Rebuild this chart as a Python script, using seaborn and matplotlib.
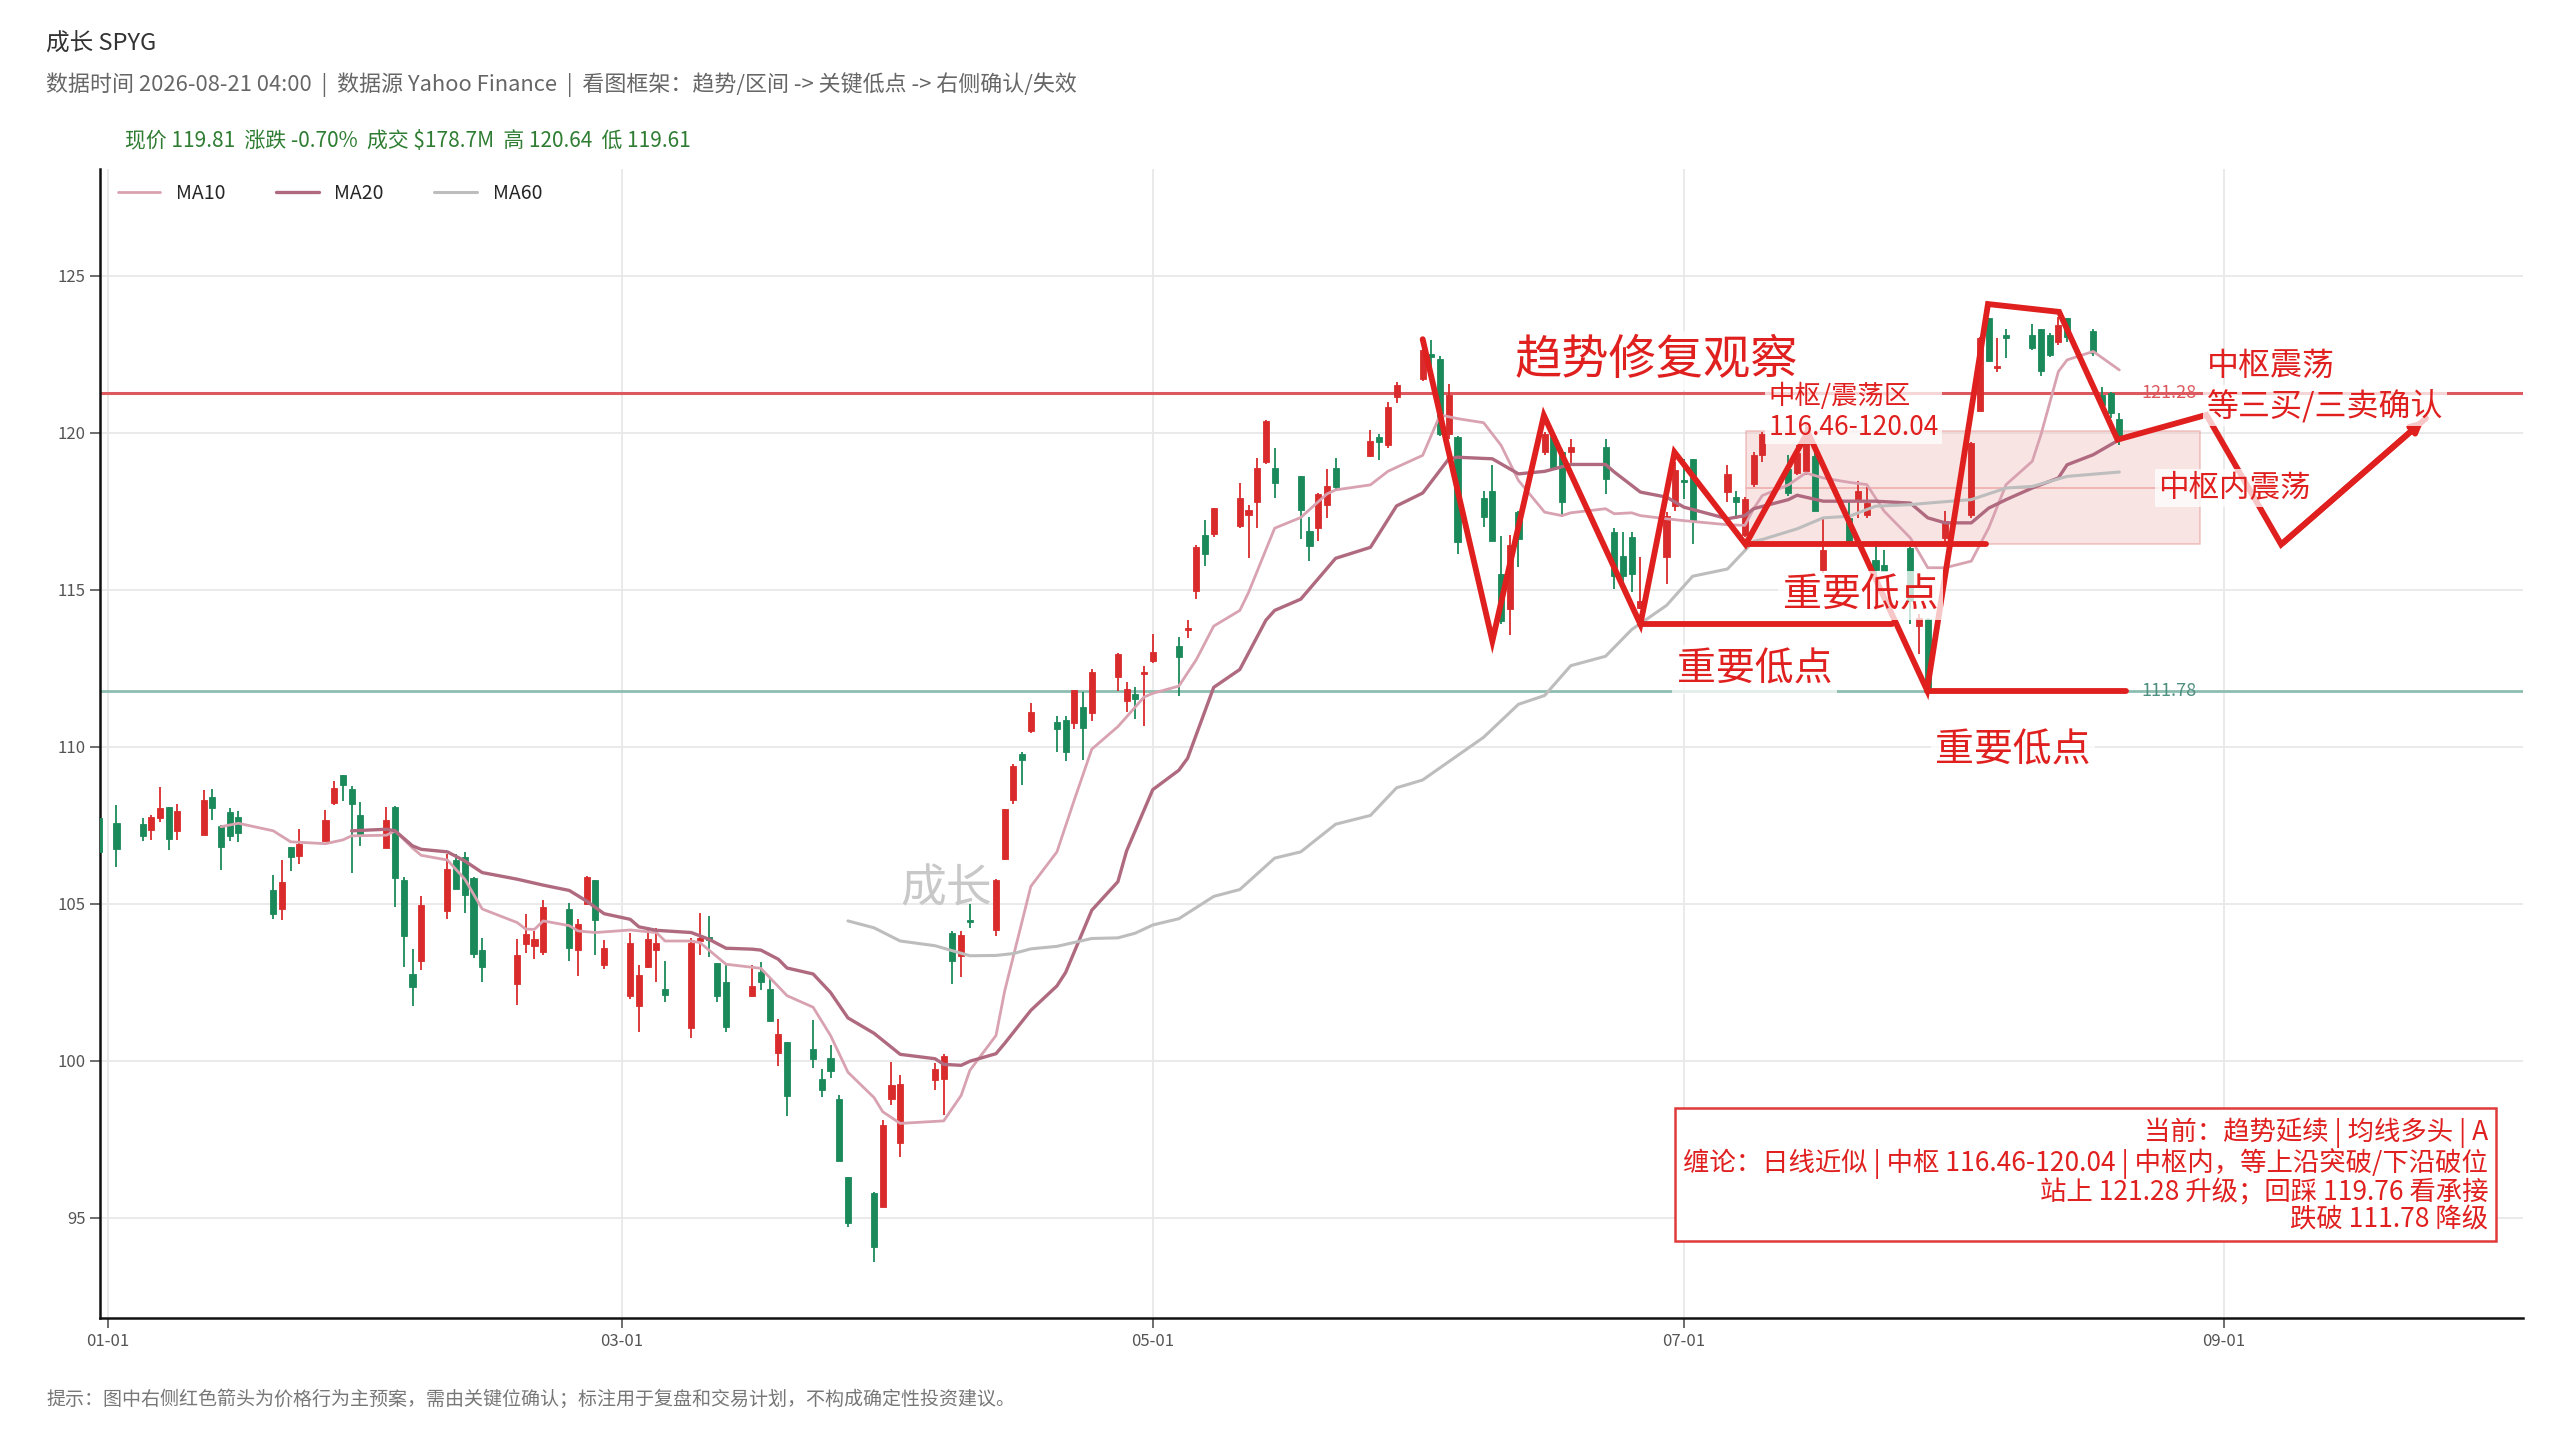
import pandas as pd
import seaborn as sns
import matplotlib
matplotlib.use("Agg")
import matplotlib.pyplot as plt
import matplotlib.dates as mdates

# --- daily candles ---
dates = [
    "2025-12-31", "2026-01-02", "2026-01-05", "2026-01-06", "2026-01-07", "2026-01-08", "2026-01-09",
    "2026-01-12", "2026-01-13", "2026-01-14", "2026-01-15", "2026-01-16", "2026-01-20", "2026-01-21",
    "2026-01-22", "2026-01-23", "2026-01-26", "2026-01-27", "2026-01-28", "2026-01-29", "2026-01-30",
    "2026-02-02", "2026-02-03", "2026-02-04", "2026-02-05", "2026-02-06", "2026-02-09", "2026-02-10",
    "2026-02-11", "2026-02-12", "2026-02-13", "2026-02-17", "2026-02-18", "2026-02-19", "2026-02-20",
    "2026-02-23", "2026-02-24", "2026-02-25", "2026-02-26", "2026-02-27", "2026-03-02", "2026-03-03",
    "2026-03-04", "2026-03-05", "2026-03-06", "2026-03-09", "2026-03-10", "2026-03-11", "2026-03-12",
    "2026-03-13", "2026-03-16", "2026-03-17", "2026-03-18", "2026-03-19", "2026-03-20", "2026-03-23",
    "2026-03-24", "2026-03-25", "2026-03-26", "2026-03-27", "2026-03-30", "2026-03-31", "2026-04-01",
    "2026-04-02", "2026-04-06", "2026-04-07", "2026-04-08", "2026-04-09", "2026-04-10", "2026-04-13",
    "2026-04-14", "2026-04-15", "2026-04-16", "2026-04-17", "2026-04-20", "2026-04-21", "2026-04-22",
    "2026-04-23", "2026-04-24", "2026-04-27", "2026-04-28", "2026-04-29", "2026-04-30", "2026-05-01",
    "2026-05-04", "2026-05-05", "2026-05-06", "2026-05-07", "2026-05-08", "2026-05-11", "2026-05-12",
    "2026-05-13", "2026-05-14", "2026-05-15", "2026-05-18", "2026-05-19", "2026-05-20", "2026-05-21",
    "2026-05-22", "2026-05-26", "2026-05-27", "2026-05-28", "2026-05-29", "2026-06-01", "2026-06-02",
    "2026-06-03", "2026-06-04", "2026-06-05", "2026-06-08", "2026-06-09", "2026-06-10", "2026-06-11",
    "2026-06-12", "2026-06-15", "2026-06-16", "2026-06-17", "2026-06-18", "2026-06-22", "2026-06-23",
    "2026-06-24", "2026-06-25", "2026-06-26", "2026-06-29", "2026-06-30", "2026-07-01", "2026-07-02",
    "2026-07-06", "2026-07-07", "2026-07-08", "2026-07-09", "2026-07-10", "2026-07-13", "2026-07-14",
    "2026-07-15", "2026-07-16", "2026-07-17", "2026-07-20", "2026-07-21", "2026-07-22", "2026-07-23",
    "2026-07-24", "2026-07-27", "2026-07-28", "2026-07-29", "2026-07-31", "2026-08-03", "2026-08-04",
    "2026-08-05", "2026-08-06", "2026-08-07", "2026-08-10", "2026-08-11", "2026-08-12", "2026-08-13",
    "2026-08-14", "2026-08-17", "2026-08-18", "2026-08-19", "2026-08-20",
]
opens = [
    107.72, 107.56, 107.53, 107.34, 107.74, 108.08, 107.31, 107.20, 108.40, 107.48, 107.93, 107.76, 105.44, 104.83,
    106.79, 106.51, 106.98, 108.20, 109.10, 108.64, 107.83, 106.76, 108.08, 105.75, 102.76, 103.16, 104.75, 106.39,
    106.47, 105.83, 103.52, 102.44, 103.71, 103.66, 103.45, 104.82, 103.52, 104.98, 105.74, 103.05, 102.05, 101.75,
    102.99, 103.53, 102.28, 101.04, 103.81, 103.95, 103.11, 102.52, 102.07, 102.83, 102.28, 100.25, 100.58, 100.38,
    99.42, 100.07, 98.77, 96.30, 95.77, 95.33, 98.79, 97.36, 99.37, 99.40, 104.05, 103.34, 104.48, 104.15,
    106.43, 108.31, 109.76, 110.49, 110.80, 110.86, 110.76, 111.26, 111.08, 112.23, 111.45, 111.68, 112.33, 112.74,
    113.21, 113.72, 114.95, 116.73, 116.79, 117.02, 117.39, 117.80, 119.06, 118.89, 118.62, 116.88, 116.98, 117.71,
    118.89, 119.27, 119.87, 119.62, 121.15, 121.72, 122.52, 122.35, 119.97, 119.86, 117.92, 118.16, 115.50, 114.40,
    117.47, 119.38, 119.91, 119.38, 119.38, 119.54, 116.83, 116.09, 116.67, 114.41, 116.04, 117.68, 118.51, 119.17,
    118.11, 117.95, 116.73, 118.37, 119.28, 118.85, 118.72, 118.77, 119.25, 115.64, 117.29, 117.82, 117.39, 115.96,
    115.80, 116.33, 113.84, 114.06, 116.65, 117.39, 120.68, 123.64, 122.05, 123.10, 123.10, 123.32, 123.10, 122.88,
    123.64, 123.24, 121.20, 121.26, 120.45,
]
highs = [
    107.80, 108.13, 107.72, 107.83, 108.72, 108.08, 108.19, 108.62, 108.66, 107.50, 108.06, 107.95, 105.92, 106.39,
    106.79, 107.38, 107.99, 108.91, 109.10, 108.75, 108.24, 108.08, 108.12, 105.85, 103.56, 105.25, 106.57, 106.57,
    106.65, 105.85, 103.90, 103.87, 104.67, 104.14, 105.11, 105.01, 104.50, 105.88, 105.74, 103.84, 104.06, 103.04,
    104.26, 104.21, 103.18, 103.92, 104.69, 104.61, 103.11, 103.04, 103.04, 103.15, 102.62, 101.31, 100.58, 101.28,
    99.72, 100.50, 98.89, 96.30, 95.83, 98.10, 99.94, 99.53, 99.92, 100.20, 104.13, 104.13, 104.98, 105.77,
    108.00, 109.44, 109.82, 111.39, 110.98, 110.99, 111.81, 111.73, 112.48, 112.99, 112.06, 111.89, 112.58, 113.59,
    113.49, 114.05, 116.42, 117.21, 117.61, 118.39, 117.71, 119.21, 120.41, 119.50, 118.62, 117.32, 118.09, 118.84,
    119.21, 120.10, 119.97, 120.98, 121.63, 122.80, 122.94, 122.45, 121.56, 119.91, 118.16, 118.96, 116.70, 116.74,
    117.52, 120.02, 119.97, 119.49, 119.81, 119.79, 116.96, 116.83, 116.83, 116.04, 117.47, 119.06, 119.17, 119.17,
    118.98, 118.16, 117.95, 119.38, 120.02, 119.30, 119.62, 120.30, 119.35, 117.29, 117.87, 118.45, 118.26, 116.55,
    116.28, 116.44, 114.22, 114.11, 117.52, 119.72, 123.06, 123.64, 123.01, 123.32, 123.48, 123.32, 123.17, 123.70,
    123.64, 123.30, 121.47, 121.29, 120.64,
]
lows = [
    106.60, 106.18, 106.98, 107.02, 107.61, 106.72, 107.04, 107.20, 107.66, 106.07, 107.00, 106.95, 104.50, 104.47,
    106.05, 106.25, 106.98, 108.13, 108.27, 105.97, 106.84, 106.76, 104.88, 102.97, 101.73, 102.90, 104.50, 105.46,
    104.69, 103.28, 102.52, 101.77, 103.42, 103.23, 103.37, 103.16, 102.68, 104.98, 103.36, 102.92, 101.96, 100.90,
    102.95, 102.49, 101.86, 100.71, 103.36, 103.29, 101.86, 100.90, 102.02, 102.25, 101.25, 99.84, 98.24, 99.78,
    98.84, 99.44, 96.81, 94.71, 93.60, 95.33, 98.58, 96.94, 99.07, 98.27, 102.44, 102.65, 104.24, 103.97,
    106.40, 108.16, 108.79, 110.45, 109.82, 109.54, 110.57, 109.59, 110.83, 111.77, 111.10, 110.89, 110.66, 112.68,
    111.63, 113.46, 114.70, 115.76, 116.67, 116.96, 116.01, 116.98, 118.99, 117.92, 116.61, 115.91, 116.54, 117.30,
    118.21, 119.24, 119.12, 119.50, 120.94, 121.66, 122.04, 119.90, 119.81, 116.14, 116.99, 116.54, 113.90, 113.55,
    115.72, 119.28, 118.85, 117.31, 119.01, 118.06, 115.03, 115.24, 114.92, 114.39, 115.19, 117.52, 117.90, 116.46,
    117.79, 117.26, 116.67, 118.27, 119.06, 118.00, 118.66, 118.66, 117.50, 115.54, 116.54, 117.29, 117.29, 115.22,
    115.60, 113.90, 112.95, 111.83, 116.39, 117.29, 120.68, 122.27, 121.95, 122.37, 122.64, 121.82, 122.42, 122.79,
    122.90, 122.46, 120.89, 120.46, 119.61,
]
closes = [
    106.66, 106.73, 107.14, 107.76, 108.04, 107.07, 107.95, 108.30, 108.06, 106.79, 107.17, 107.26, 104.67, 105.69,
    106.47, 106.91, 107.67, 108.67, 108.77, 108.17, 107.23, 107.66, 105.83, 103.96, 102.33, 104.96, 106.10, 105.46,
    105.28, 103.41, 102.97, 103.36, 104.03, 103.87, 104.90, 103.58, 104.34, 105.85, 104.48, 103.58, 103.74, 102.72,
    103.87, 103.76, 102.10, 103.76, 103.92, 103.84, 102.05, 101.06, 102.39, 102.52, 101.25, 100.85, 98.87, 100.04,
    99.07, 99.68, 96.81, 94.82, 94.06, 97.94, 99.21, 99.26, 99.72, 100.16, 103.16, 104.01, 104.43, 105.75,
    108.00, 109.38, 109.57, 111.11, 110.55, 109.82, 111.81, 110.60, 112.37, 112.96, 111.83, 111.52, 112.39, 113.03,
    112.87, 113.78, 116.35, 116.14, 117.59, 117.92, 117.55, 118.87, 120.38, 118.39, 117.55, 116.38, 118.05, 118.30,
    118.26, 119.75, 119.72, 120.81, 121.51, 122.63, 122.41, 119.97, 121.19, 116.51, 117.31, 116.54, 114.00, 116.41,
    116.60, 119.97, 118.87, 117.79, 119.54, 118.53, 115.45, 115.45, 115.50, 114.65, 117.36, 118.80, 118.43, 117.20,
    118.69, 117.79, 117.90, 119.28, 119.97, 118.08, 119.35, 120.04, 117.50, 116.28, 116.54, 118.13, 117.76, 115.64,
    115.60, 114.64, 114.11, 111.88, 117.18, 119.67, 123.01, 122.27, 122.12, 123.03, 122.71, 121.98, 122.48, 123.43,
    123.06, 122.53, 120.89, 120.62, 119.81,
]

# --- moving averages (values read at selected dates) ---
ma10_dates = [
    "2026-01-14", "2026-01-16", "2026-01-20", "2026-01-22", "2026-01-26", "2026-01-28", "2026-01-29", "2026-02-02",
    "2026-02-03", "2026-02-05", "2026-02-06", "2026-02-09", "2026-02-11", "2026-02-13", "2026-02-17", "2026-02-18",
    "2026-02-19", "2026-02-20", "2026-02-23", "2026-02-24", "2026-02-26", "2026-03-02", "2026-03-05", "2026-03-06",
    "2026-03-09", "2026-03-10", "2026-03-13", "2026-03-17", "2026-03-20", "2026-03-23", "2026-03-25", "2026-03-27",
    "2026-03-30", "2026-03-31", "2026-04-02", "2026-04-07", "2026-04-09", "2026-04-10", "2026-04-13", "2026-04-14",
    "2026-04-17", "2026-04-20", "2026-04-22", "2026-04-24", "2026-04-27", "2026-04-28", "2026-04-30", "2026-05-01",
    "2026-05-04", "2026-05-06", "2026-05-08", "2026-05-11", "2026-05-12", "2026-05-15", "2026-05-18", "2026-05-21",
    "2026-05-22", "2026-05-26", "2026-05-28", "2026-05-29", "2026-06-01", "2026-06-03", "2026-06-05", "2026-06-08",
    "2026-06-10", "2026-06-12", "2026-06-15", "2026-06-17", "2026-06-18", "2026-06-22", "2026-06-23", "2026-06-25",
    "2026-06-26", "2026-06-29", "2026-07-01", "2026-07-06", "2026-07-08", "2026-07-09", "2026-07-10", "2026-07-13",
    "2026-07-15", "2026-07-17", "2026-07-20", "2026-07-22", "2026-07-24", "2026-07-27", "2026-07-29", "2026-07-31",
    "2026-08-03", "2026-08-05", "2026-08-07", "2026-08-10", "2026-08-11", "2026-08-13", "2026-08-14", "2026-08-17",
    "2026-08-20",
]
ma10_vals = [
    107.45, 107.56, 107.32, 106.97, 106.91, 107.03, 107.16, 107.18, 107.32, 106.77, 106.54, 106.39, 105.78, 104.83,
    104.40, 104.19, 104.18, 104.45, 104.30, 104.13, 104.08, 104.16, 104.08, 103.81, 103.81, 103.76, 103.07, 102.94,
    102.07, 101.70, 100.80, 99.63, 98.82, 98.37, 98.00, 98.08, 98.89, 99.69, 100.80, 102.22, 105.55, 106.65,
    108.31, 109.92, 110.64, 110.95, 111.58, 111.70, 111.93, 112.77, 113.84, 114.34, 114.91, 116.96, 117.30, 118.05,
    118.18, 118.34, 118.77, 118.90, 119.28, 120.57, 120.45, 120.32, 119.60, 118.48, 117.47, 117.36, 117.45, 117.58,
    117.42, 117.45, 117.36, 117.26, 117.20, 117.07, 117.05, 117.58, 118.00, 118.34, 118.72, 118.56, 118.42, 118.35,
    117.50, 116.65, 115.70, 115.70, 115.91, 116.97, 118.35, 119.09, 119.94, 121.95, 122.32, 122.59, 122.00,
]
ma20_dates = [
    "2026-01-29", "2026-02-02", "2026-02-03", "2026-02-05", "2026-02-06", "2026-02-09", "2026-02-11", "2026-02-13",
    "2026-02-17", "2026-02-20", "2026-02-23", "2026-02-25", "2026-02-27", "2026-03-02", "2026-03-03", "2026-03-05",
    "2026-03-09", "2026-03-11", "2026-03-13", "2026-03-16", "2026-03-17", "2026-03-19", "2026-03-20", "2026-03-23",
    "2026-03-25", "2026-03-27", "2026-03-30", "2026-04-02", "2026-04-06", "2026-04-07", "2026-04-09", "2026-04-10",
    "2026-04-13", "2026-04-14", "2026-04-17", "2026-04-20", "2026-04-21", "2026-04-24", "2026-04-27", "2026-04-28",
    "2026-05-01", "2026-05-04", "2026-05-05", "2026-05-08", "2026-05-11", "2026-05-14", "2026-05-15", "2026-05-18",
    "2026-05-22", "2026-05-26", "2026-05-29", "2026-06-01", "2026-06-04", "2026-06-05", "2026-06-09", "2026-06-12",
    "2026-06-15", "2026-06-18", "2026-06-22", "2026-06-23", "2026-06-26", "2026-06-29", "2026-07-01", "2026-07-06",
    "2026-07-08", "2026-07-09", "2026-07-13", "2026-07-14", "2026-07-17", "2026-07-20", "2026-07-23", "2026-07-27",
    "2026-07-29", "2026-07-31", "2026-08-03", "2026-08-05", "2026-08-07", "2026-08-10", "2026-08-13", "2026-08-14",
    "2026-08-17", "2026-08-20",
]
ma20_vals = [
    107.32, 107.37, 107.32, 106.84, 106.73, 106.65, 106.36, 105.99, 105.78, 105.59, 105.42, 105.08, 104.68, 104.50,
    104.26, 104.15, 104.08, 103.87, 103.58, 103.55, 103.52, 103.23, 102.95, 102.76, 102.17, 101.36, 100.87, 100.20,
    100.06, 99.88, 99.85, 99.98, 100.22, 100.55, 101.60, 102.38, 102.81, 104.79, 105.70, 106.68, 108.63, 109.25,
    109.63, 111.89, 112.46, 114.03, 114.34, 114.70, 116.00, 116.35, 117.67, 118.08, 119.17, 119.22, 119.17, 118.69,
    118.77, 118.99, 118.99, 118.75, 118.11, 117.95, 117.63, 117.26, 117.36, 117.58, 117.87, 118.01, 117.82, 117.82,
    117.82, 117.76, 117.29, 117.13, 117.13, 117.60, 117.87, 118.24, 118.56, 118.98, 119.30, 119.78,
]
ma60_dates = [
    "2026-03-27", "2026-03-30", "2026-04-02", "2026-04-06", "2026-04-08", "2026-04-10", "2026-04-13", "2026-04-15",
    "2026-04-17", "2026-04-20", "2026-04-24", "2026-04-27", "2026-04-29", "2026-05-01", "2026-05-04", "2026-05-08",
    "2026-05-11", "2026-05-15", "2026-05-18", "2026-05-22", "2026-05-26", "2026-05-29", "2026-06-01", "2026-06-08",
    "2026-06-12", "2026-06-15", "2026-06-18", "2026-06-22", "2026-06-25", "2026-06-29", "2026-07-02", "2026-07-06",
    "2026-07-09", "2026-07-10", "2026-07-14", "2026-07-17", "2026-07-20", "2026-07-23", "2026-07-27", "2026-07-29",
    "2026-08-03", "2026-08-07", "2026-08-10", "2026-08-14", "2026-08-20",
]
ma60_vals = [
    104.45, 104.23, 103.81, 103.66, 103.50, 103.34, 103.35, 103.41, 103.56, 103.64, 103.89, 103.91, 104.06, 104.32,
    104.52, 105.23, 105.45, 106.45, 106.65, 107.53, 107.81, 108.69, 108.94, 110.30, 111.35, 111.63, 112.58, 112.88,
    113.73, 114.50, 115.43, 115.66, 116.54, 116.60, 116.94, 117.29, 117.34, 117.66, 117.71, 117.76, 117.87, 118.24,
    118.29, 118.61, 118.75,
]

# --- key levels / zone / hand-drawn strokes ---
resist_level = 121.28
support_level = 111.78
zone_low, zone_high = 116.46, 120.04
zone_dates = ["2026-07-08 02:00", "2026-08-29 05:00"]
stroke_dates = [
    "2026-06-01 00:00", "2026-06-09 00:00", "2026-06-14 22:00", "2026-06-26 00:00", "2026-06-29 22:00",
    "2026-07-08 02:00", "2026-07-15 05:00", "2026-07-28 22:00", "2026-08-04 22:00", "2026-08-13 02:00",
    "2026-08-19 19:00", "2026-08-30 00:00", "2026-09-07 14:00", "2026-09-24 05:00",
]
stroke_vals = [122.98, 113.37, 120.55, 113.90, 119.38, 116.44, 120.02, 111.80, 124.10, 123.85, 119.78,
               120.57, 116.44, 120.46]
low_lines = [
    ("2026-07-08 02:00", "2026-08-04 17:00", 116.46),
    ("2026-06-26 00:00", "2026-07-24 22:00", 113.90),
    ("2026-07-28 22:00", "2026-08-20 19:00", 111.78),
]


def when(s):
    return pd.to_datetime(s, format="ISO8601")


# --- styling ---
sns.set_theme(style="whitegrid")
plt.rcParams["font.family"] = ["Noto Sans CJK SC", "DejaVu Sans"]
plt.rcParams["axes.unicode_minus"] = False

UP = "#d92b2b"
DOWN = "#1b8a5a"
MARK = "#e01f1f"

fig = plt.figure(figsize=(25.6, 14.4), dpi=100)
ax = fig.add_axes([0.0391, 0.0847, 0.9466, 0.7979])

df = pd.DataFrame({"date": when(dates), "open": opens, "high": highs,
                   "low": lows, "close": closes})
df["color"] = [UP if c >= o else DOWN for o, c in zip(df["open"], df["close"])]
body_lo = df[["open", "close"]].min(axis=1)
body_h = (df["close"] - df["open"]).abs().clip(lower=0.06)

# watermark
ax.text(mdates.date2num(when("2026-04-07 07:00")), 105.45, "成长", fontsize=33,
        color="#c8c8c8", ha="center", va="center", zorder=1)

ax.vlines(df["date"], df["low"], df["high"], colors=df["color"], lw=1.3, zorder=3)
ax.bar(df["date"], body_h, bottom=body_lo, width=0.7, color=df["color"],
       edgecolor=df["color"], lw=0.6, zorder=4)

sns.lineplot(x=when(ma10_dates), y=ma10_vals, ax=ax, color="#d8a2b1", lw=2.0,
             label="MA10", zorder=5)
sns.lineplot(x=when(ma20_dates), y=ma20_vals, ax=ax, color="#b06a80", lw=2.4,
             label="MA20", zorder=5)
sns.lineplot(x=when(ma60_dates), y=ma60_vals, ax=ax, color="#bdbdbd", lw=2.2,
             label="MA60", zorder=5)

# key levels
ax.axhline(resist_level, color="#dc5a5f", lw=2.2, zorder=2)
ax.axhline(support_level, color="#8dbdb0", lw=2.0, zorder=2)
lbl_x = mdates.date2num(when("2026-08-22 14:00"))
ax.text(lbl_x, resist_level, f"{resist_level:.2f}", fontsize=13, color="#dc5a5f",
        va="center", ha="left", zorder=8)
ax.text(lbl_x, support_level, f"{support_level:.2f}", fontsize=13, color="#4f8f7f",
        va="center", ha="left", zorder=8)

# zone box
zx = when(zone_dates)
ax.fill_between(zx, zone_low, zone_high, facecolor="#f2c0c0", alpha=0.42,
                edgecolor="#e48f8f", lw=1.4, zorder=2)
ax.plot(zx, [(zone_low + zone_high) / 2] * 2, color="#f0b4b4", lw=1.4, zorder=2)

# strokes
sx = when(stroke_dates)
ax.plot(sx, stroke_vals, color=MARK, lw=4.2, solid_joinstyle="miter", zorder=7)
for d0, d1, lvl in low_lines:
    ax.plot(when([d0, d1]), [lvl, lvl], color=MARK, lw=4.2, zorder=7)
ax.annotate("", xy=(mdates.date2num(sx[-1]), stroke_vals[-1]),
            xytext=(mdates.date2num(sx[-2]), stroke_vals[-2]),
            arrowprops=dict(arrowstyle="-|>", color=MARK, lw=4.2, mutation_scale=16), zorder=7)

wbox = dict(boxstyle="square,pad=0.12", fc="white", ec="none", alpha=0.75)


def note(date, y, s, size, ha="left", box=True):
    ax.text(mdates.date2num(when(date)), y, s, fontsize=size, color=MARK, ha=ha,
            va="center", zorder=9, bbox=wbox if box else None)


note("2026-06-11 12:00", 122.3, "趋势修复观察", 34)
note("2026-07-10 17:00", 120.67, "中枢/震荡区\n116.46-120.04", 19)
note("2026-07-21 07:00", 114.82, "重要低点", 28, ha="center")
note("2026-07-09 02:00", 112.45, "重要低点", 28, ha="center")
note("2026-08-07 19:00", 109.88, "重要低点", 28, ha="center")
note("2026-08-30 02:00", 122.12, "中枢震荡", 23, box=False)
note("2026-08-30 02:00", 120.87, "等三买/三卖确认", 23)
note("2026-08-24 12:00", 118.24, "中枢内震荡", 22)

info = ("当前：趋势延续 | 均线多头 | A\n"
        "缠论：日线近似 | 中枢 116.46-120.04 | 中枢内，等上沿突破/下沿破位\n"
        "站上 121.28 升级；回踩 119.76 看承接\n"
        "跌破 111.78 降级")
ax.text(0.9855, 0.074, info, transform=ax.transAxes, ha="right", va="bottom", fontsize=19,
        color=MARK, linespacing=1.0, zorder=10,
        bbox=dict(boxstyle="square,pad=0.3", fc="white", ec="#e03a3a", lw=1.8))

# axes
start = pd.Timestamp("2026-01-01")
ax.set_xlim(start - pd.Timedelta(days=0.88), start + pd.Timedelta(days=277.4))
ax.set_ylim(91.8, 128.4)
ax.set_xticks(when(["2026-01-01", "2026-03-01", "2026-05-01", "2026-07-01", "2026-09-01"]))
ax.xaxis.set_major_formatter(mdates.DateFormatter("%m-%d"))
ax.set_yticks([95, 100, 105, 110, 115, 120, 125])
ax.set_xlabel("")
ax.set_ylabel("")
ax.grid(color="#e8e8e8", lw=1.3)
ax.set_axisbelow(True)
for side in ["top", "right"]:
    ax.spines[side].set_visible(False)
for side in ["left", "bottom"]:
    ax.spines[side].set_color("#111111")
    ax.spines[side].set_linewidth(1.8)
ax.tick_params(axis="both", bottom=True, left=True, length=7, width=1.2, color="#555555",
               labelcolor="#555555", labelsize=12)

ax.legend(loc="upper left", bbox_to_anchor=(0.0, 1.003), ncol=3, frameon=False, fontsize=14,
          handlelength=2.2, columnspacing=2.6)

# header / footer
fig.text(0.018, 0.969, "成长 SPYG", fontsize=17, color="#333333", va="center")
fig.text(0.018, 0.941, "数据时间 2026-08-21 04:00  |  数据源 Yahoo Finance  |  看图框架：趋势/区间 -> 关键低点 -> 右侧确认/失效",
         fontsize=15.8, color="#666666", va="center")
fig.text(0.0488, 0.902, "现价 119.81  涨跌 -0.70%  成交 $178.7M  高 120.64  低 119.61",
         fontsize=15, color="#2e7d32", va="center")
fig.text(0.018, 0.0285, "提示：图中右侧红色箭头为价格行为主预案，需由关键位确认；标注用于复盘和交易计划，不构成确定性投资建议。",
         fontsize=13.7, color="#777777", va="center")

fig.savefig("out.png", dpi=100)
